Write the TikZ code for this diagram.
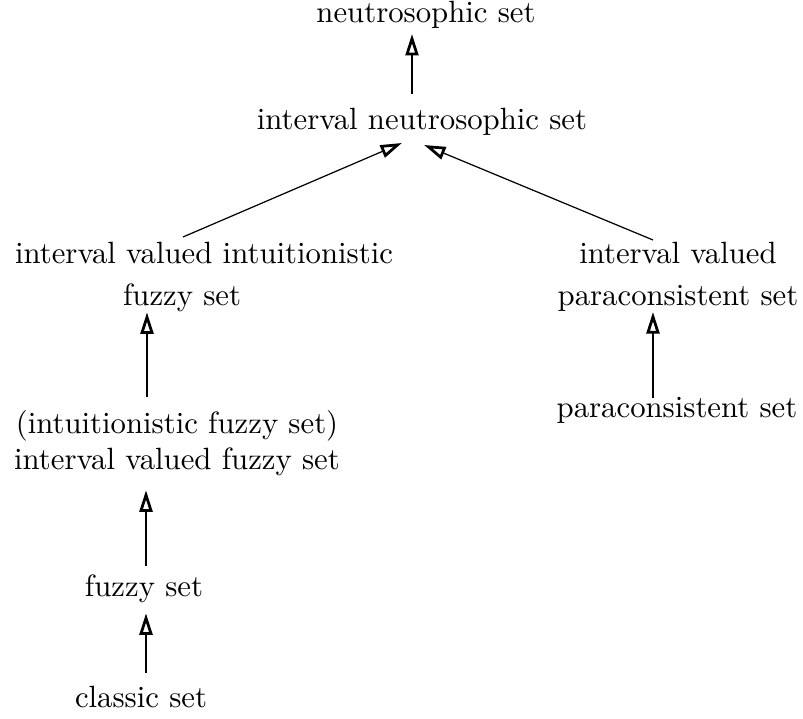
\documentclass[tikz,border=0pt]{standalone}
\usetikzlibrary{arrows.meta}
\begin{document}
\begin{tikzpicture}[x=0.3252pt,y=-0.3252pt,
  lbl/.style={inner sep=0pt,outer sep=0pt,font=\fontsize{10pt}{12pt}\selectfont},
  tip/.style={-{Triangle[open,length=7pt,width=4.2pt,line width=0.9pt]}},
  vert/.style={tip,line width=0.9pt},
  diag/.style={tip,line width=0.4pt}]
\useasboundingbox (0,0) rectangle (803,719);
\node[lbl,anchor=base] (neutro) at (426,23) {neutrosophic set};
\node[lbl,anchor=base] (intn) at (422,130) {interval neutrosophic set};
\node[lbl,anchor=north,align=center] (ivi) at (204,241.7) {interval valued intuitionistic\\[1.66pt]fuzzy set\hspace*{14.3pt}};
\node[lbl,anchor=north,align=center] (ivp) at (678,241.7) {interval valued\\[1.66pt]paraconsistent set};
\node[lbl,anchor=north,align=center] (ifs) at (177,410) {(intuitionistic fuzzy set)\\interval valued fuzzy set};
\node[lbl,anchor=base] (par) at (677,418) {paraconsistent set};
\node[lbl,anchor=base] (fuzzy) at (144,597) {fuzzy set};
\node[lbl,anchor=base] (classic) at (141,708) {classic set};
\draw[vert] ([shift={(-10,-14.7)}]intn.north) -- ([shift={(-14,5)}]neutro.south);
\draw[diag] ([shift={(-21,-4.7)}]ivi.north) -- ([shift={(-20,7)}]intn.south);
\draw[diag] ([shift={(-25,-1.7)}]ivp.north) -- ([shift={(2,9)}]intn.south);
\draw[vert] ([shift={(-30,-13)}]ifs.north) -- ([shift={(-57,1)}]ivi.south);
\draw[vert] ([shift={(2,-9)}]fuzzy.north) -- ([shift={(-31,14)}]ifs.south);
\draw[vert] ([shift={(5,-14)}]classic.north) -- ([shift={(2,10)}]fuzzy.south);
\draw[vert] ([shift={(-24,0)}]par.north) -- ([shift={(-25,1)}]ivp.south);
\end{tikzpicture}
\end{document}
